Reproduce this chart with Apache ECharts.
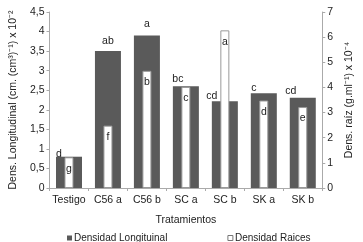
<!DOCTYPE html>
<html>
<head>
<meta charset="utf-8">
<script src="https://cdn.jsdelivr.net/npm/echarts@6/dist/echarts.min.js"></script>
<style>
html,body{margin:0;padding:0;background:#fff;}
#chart{width:363px;height:242px;}
</style>
</head>
<body>
<div id="chart"></div>
<script>
const categories = ['Testigo', 'C56 a', 'C56 b', 'SC a', 'SC b', 'SK a', 'SK b'];
const densLongitudinal = [0.8, 3.5, 3.9, 2.6, 2.22, 2.42, 2.31];
const densRaices = [1.22, 2.48, 4.66, 4.02, 6.27, 3.48, 3.22];
const lettersLong = ['d', 'ab', 'a', 'bc', 'cd', 'c', 'cd'];
const lettersRaices = ['g', 'f', 'b', 'c', 'a', 'd', 'e'];
const leftTicks = [0, 0.5, 1, 1.5, 2, 2.5, 3, 3.5, 4, 4.5];
const rightTicks = [0, 1, 2, 3, 4, 5, 6, 7];

// label style offsets (styling only)
const longLabelOffsets = [[-10, 5], [0, -3], [0, -4], [-8, 0], [-13, 2], [-10, 2], [-12, 1]];

const font = 'Liberation Sans, Arial, sans-serif';
const txt = '#222';

const chart = echarts.init(document.getElementById('chart'));
chart.setOption({
  animation: false,
  textStyle: { fontFamily: font },
  grid: { left: 45, right: 33, top: 12, bottom: 54 },
  legend: {
    left: 62, top: 228,
    itemWidth: 5, itemHeight: 5, itemGap: 60,
    icon: 'rect',
    textStyle: { fontSize: 10, color: txt, fontFamily: font, padding: [0, 0, 0, -3] },
    data: [
      { name: 'Densidad Longituinal', itemStyle: { color: '#5a5a5a', borderColor: '#5a5a5a', borderWidth: 0 } },
      { name: 'Densidad Raices', itemStyle: { color: '#fff', borderColor: '#777', borderWidth: 1 } }
    ]
  },
  xAxis: [
    {
      type: 'category', data: categories,
      name: 'Tratamientos', nameLocation: 'middle', nameGap: 27,
      nameTextStyle: { fontSize: 10.5, color: txt },
      axisLine: { lineStyle: { color: '#aaa' } },
      axisTick: { show: true, length: 3, lineStyle: { color: '#aaa' } },
      axisLabel: { fontSize: 10.5, color: txt, margin: 7, interval: 0 }
    },
    {
      type: 'category', data: categories, show: false, gridIndex: 0
    }
  ],
  yAxis: [
    {
      type: 'value', min: 0, max: 4.5, interval: 0.5,
      name: 'Dens. Longitudinal (cm. (cm\u00b3)\u207b\u00b9) x 10\u207b\u00b2',
      nameLocation: 'middle', nameGap: 28, nameRotate: 90,
      nameTextStyle: { fontSize: 10.5, color: txt },
      axisLine: { show: true, lineStyle: { color: '#aaa' } },
      axisTick: { show: true, length: 3, lineStyle: { color: '#aaa' } },
      splitLine: { show: false },
      axisLabel: {
        fontSize: 10.5, color: txt, margin: 5,
        formatter: v => leftTicks.includes(v) ? String(v).replace('.', ',') : ''
      }
    },
    {
      type: 'value', min: 0, max: 7, interval: 1,
      name: 'Dens. ra\u00edz (g.ml\u207b\u00b9) x 10\u207b\u2074',
      nameLocation: 'middle', nameGap: 18, nameRotate: 90,
      nameTextStyle: { fontSize: 10.5, color: txt },
      axisLine: { show: true, lineStyle: { color: '#aaa' } },
      axisTick: { show: true, length: 3, lineStyle: { color: '#aaa' } },
      splitLine: { show: false },
      axisLabel: {
        fontSize: 10.5, color: txt, margin: 5,
        formatter: v => rightTicks.includes(v) ? String(v) : ''
      }
    }
  ],
  series: [
    {
      name: 'Densidad Longituinal', type: 'bar',
      xAxisIndex: 0, yAxisIndex: 0, barWidth: 26,
      itemStyle: { color: '#5a5a5a' },
      data: densLongitudinal.map((v, i) => ({
        value: v,
        label: {
          show: true, position: 'top', distance: 2,
          offset: longLabelOffsets[i],
          formatter: lettersLong[i], fontSize: 10.5, color: txt
        }
      }))
    },
    {
      name: 'Densidad Raices', type: 'bar',
      xAxisIndex: 1, yAxisIndex: 1, barWidth: 9,
      itemStyle: { color: '#fff', borderColor: '#999', borderWidth: 1 },
      data: densRaices.map((v, i) => ({
        value: v,
        label: {
          show: true, position: 'insideTop', distance: 6,
          formatter: lettersRaices[i], fontSize: 10.5, color: txt
        }
      }))
    }
  ]
});
</script>
</body>
</html>
